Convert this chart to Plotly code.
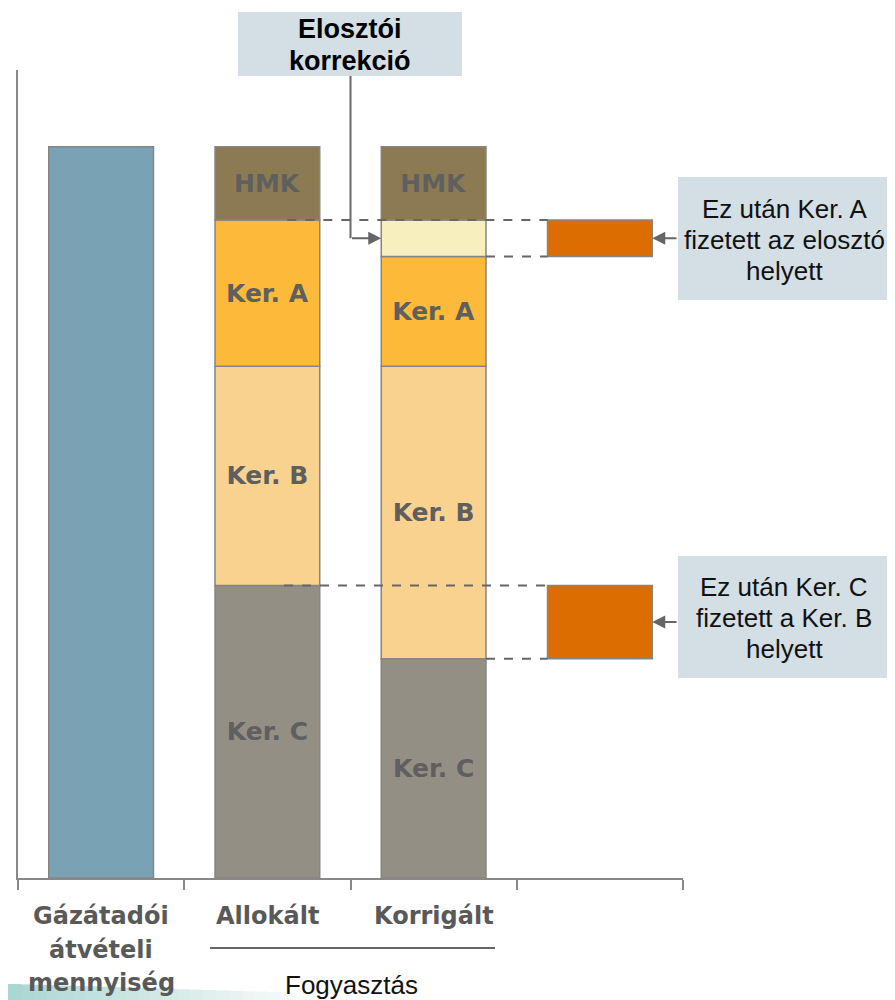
import plotly.graph_objects as go

# ---- data ----
categories = ["Gázátadói<br>átvételi<br>mennyiség", "Allokált", "Korrigált"]
category_lines = [["Gázátadói", "átvételi", "mennyiség"], ["Allokált"], ["Korrigált"]]
gazatadoi_total = [100]
ker_c = [40, 30]          # Allokált, Korrigált
ker_b = [30, 40]
ker_a = [20, 15]
eloszto_korr = [0, 5]
hmk = [10, 10]
group_label = "Fogyasztás"
callout_top = ["Elosztói", "korrekció"]
callout_a = ["Ez után Ker. A", "fizetett az elosztó", "helyett"]
callout_c = ["Ez után Ker. C", "fizetett a Ker. B", "helyett"]

# ---- style ----
OFF = 8  # page body margin in the browser
W, H = 895 - OFF, 1000 - OFF
PL, PR, PT, PB = 18, 683, 70, 878   # plot area in window pixels
ML, MR, MT, MB = PL - OFF, W - (PR - OFF), PT - OFF, H - (PB - OFF)
YMAX = 110.5
BW = 0.63
OUTLINE = dict(color="#858585", width=1.5)
LABEL_FONT = dict(family="DejaVu Sans", size=25, color="#5f5f5f", weight="bold")
ARIAL = "Liberation Sans, Arial"
colors = {
    "gaz": "#79a3b4", "Ker. C": "#948f84", "Ker. B": "#fad28f",
    "Ker. A": "#fdba3a", "korr": "#f8efbf", "HMK": "#8c7b52", "orange": "#dc6d00",
}
BOX = "#d3dfe5"

PW = PR - PL
PH = PB - PT


def px_x(p):
    return (p - PL) / PW


def px_y(p):
    return (PB - p) / PH


fig = go.Figure()

# Gázátadói
fig.add_trace(go.Bar(x=[0], y=gazatadoi_total, base=[0], width=BW,
                     marker=dict(color=colors["gaz"], line=OUTLINE), showlegend=False))

# stacked consumption bars
xs = [1, 2]
segments = [("Ker. C", ker_c, colors["Ker. C"]), ("Ker. B", ker_b, colors["Ker. B"]),
            ("Ker. A", ker_a, colors["Ker. A"]), ("", eloszto_korr, colors["korr"]),
            ("HMK", hmk, colors["HMK"])]
base = [0, 0]
tops = {}
for name, vals, col in segments:
    bx = [x for x, v in zip(xs, vals) if v > 0]
    by = [v for v in vals if v > 0]
    bb = [b for b, v in zip(base, vals) if v > 0]
    fig.add_trace(go.Bar(x=bx, y=by, base=bb, width=BW,
                         marker=dict(color=col, line=OUTLINE),
                         text=[name] * len(bx), textposition="inside",
                         insidetextanchor="middle", textangle=0,
                         textfont=LABEL_FONT, showlegend=False))
    base = [b + v for b, v in zip(base, vals)]
    tops[name] = list(base)

# correction bars (difference between Allokált and Korrigált)
a_top_alloc = tops["Ker. A"][0]
a_top_korr = tops["Ker. A"][1]
c_top_alloc = tops["Ker. C"][0]
c_top_korr = tops["Ker. C"][1]
fig.add_trace(go.Bar(x=[3, 3], y=[a_top_alloc - a_top_korr, c_top_alloc - c_top_korr],
                     base=[a_top_korr, c_top_korr], width=BW,
                     marker=dict(color=colors["orange"], line=OUTLINE), showlegend=False))

shapes = []
dash = dict(color="#666666", width=2, dash="dash")
right_edge = 2 + BW / 2
left3 = 3 - BW / 2
shapes += [
    dict(type="line", xref="x", yref="y", x0=1.12, x1=left3, y0=a_top_alloc, y1=a_top_alloc, line=dash, layer="above"),
    dict(type="line", xref="x", yref="y", x0=right_edge, x1=left3, y0=a_top_korr, y1=a_top_korr, line=dash, layer="above"),
    dict(type="line", xref="x", yref="y", x0=1.10, x1=left3, y0=c_top_alloc, y1=c_top_alloc, line=dash, layer="above"),
    dict(type="line", xref="x", yref="y", x0=right_edge, x1=left3, y0=c_top_korr, y1=c_top_korr, line=dash, layer="above"),
]

corr_mid = a_top_korr + eloszto_korr[1] / 2
# elbow connector from top callout
shapes.append(dict(type="line", xref="x", yref="paper", x0=1.5, x1=1.5,
                   y0=px_y(76), y1=(corr_mid) / YMAX, line=dict(color="#666666", width=2)))

# callout boxes
shapes.append(dict(type="rect", xref="paper", yref="paper", x0=px_x(238), x1=px_x(462),
                   y0=px_y(76), y1=px_y(12), fillcolor=BOX, line=dict(width=0), layer="below"))
shapes.append(dict(type="rect", xref="paper", yref="paper", x0=px_x(678), x1=px_x(895),
                   y0=px_y(300), y1=px_y(177), fillcolor=BOX, line=dict(width=0), layer="below"))
shapes.append(dict(type="rect", xref="paper", yref="paper", x0=px_x(678), x1=px_x(895),
                   y0=px_y(678), y1=px_y(556), fillcolor=BOX, line=dict(width=0), layer="below"))

# underline for group label
shapes.append(dict(type="line", xref="paper", yref="paper", x0=px_x(210), x1=px_x(495),
                   y0=px_y(948), y1=px_y(948), line=dict(color="#333333", width=1.5)))

# decorative gradient swoosh bottom-left
n = 24
for i in range(n):
    x0 = 8 + i * 13
    shapes.append(dict(type="rect", xref="paper", yref="paper",
                       x0=px_x(x0), x1=px_x(x0 + 13), y0=px_y(1000), y1=px_y(984 + i * 0.4),
                       fillcolor="#8ec9c2", opacity=max(0.0, 0.75 * (1 - i / n)),
                       line=dict(width=0), layer="below"))

annotations = []
# arrows
arrow = dict(showarrow=True, arrowhead=2, arrowsize=1.3, arrowwidth=2, arrowcolor="#666666",
             axref="x", ayref="y", text="")
annotations.append(dict(x=2 - BW / 2, y=corr_mid, ax=1.5, ay=corr_mid, xref="x", yref="y", **arrow))
annotations.append(dict(x=3 + BW / 2, y=(a_top_alloc + a_top_korr) / 2, ax=3.47,
                        ay=(a_top_alloc + a_top_korr) / 2, xref="x", yref="y", **arrow))
annotations.append(dict(x=3 + BW / 2, y=(c_top_alloc + c_top_korr) / 2, ax=3.47,
                        ay=(c_top_alloc + c_top_korr) / 2, xref="x", yref="y", **arrow))


def text_lines(lines, xc, ys, font, xref="paper"):
    for t, yy in zip(lines, ys):
        annotations.append(dict(text=t, x=xc, y=px_y(yy), xref=xref, yref="paper",
                                showarrow=False, xanchor="center", yanchor="middle", font=font))


text_lines(callout_top, px_x(350), [29, 61], dict(family=ARIAL, size=27, color="#000000", weight="bold"))
text_lines(callout_a, px_x(784), [209, 240, 271], dict(family=ARIAL, size=26, color="#111111"))
text_lines(callout_c, px_x(784), [587, 618, 649], dict(family=ARIAL, size=26, color="#111111"))

tick_font = dict(family="DejaVu Sans", size=24, color="#595959", weight="bold")
for i, lines in enumerate(category_lines):
    text_lines(lines, i, [916, 950, 983][:len(lines)], tick_font, xref="x")

text_lines([group_label], px_x(351), [985], dict(family=ARIAL, size=26, color="#111111"))

fig.update_layout(
    width=W, height=H, margin=dict(l=ML, r=MR, t=MT, b=MB),
    paper_bgcolor="white", plot_bgcolor="white", barmode="overlay",
    showlegend=False, shapes=shapes, annotations=annotations,
    uniformtext=dict(minsize=10, mode="show"),
    xaxis=dict(range=[-0.5, 3.5], tickvals=[-0.5, 0.5, 1.5, 2.5, 3.5], ticks="outside",
               ticklen=10, tickwidth=1.5, tickcolor="#888888", showticklabels=False,
               showline=True, linecolor="#888888", linewidth=2, showgrid=False, zeroline=False,
               fixedrange=True),
    yaxis=dict(range=[0, YMAX], showline=True, linecolor="#888888", linewidth=2,
               showticklabels=False, ticks="", showgrid=False, zeroline=False, fixedrange=True),
)

fig.write_html("out.html")
